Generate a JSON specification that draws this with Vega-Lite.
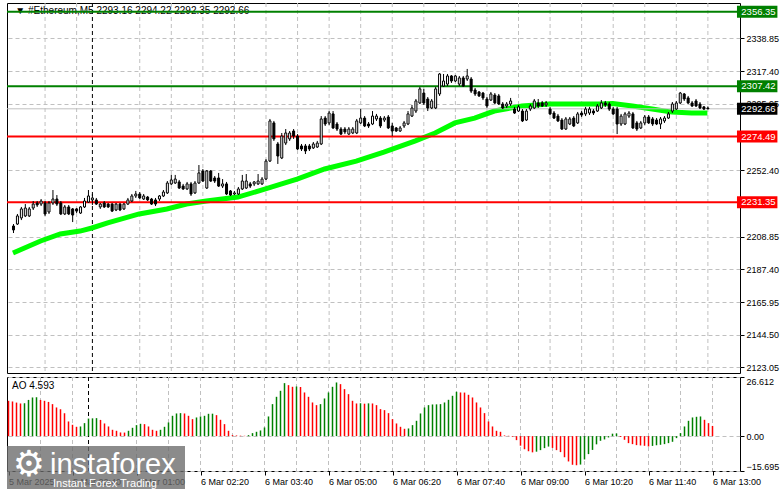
{
  "$schema": "https://vega.github.io/schema/vega-lite/v6.json",
  "padding": {"left": 2, "top": 2, "right": 0, "bottom": 0},
  "spacing": 2,
  "config": {
    "font": "Liberation Sans",
    "view": {"stroke": "#000000", "strokeWidth": 1, "fill": "#ffffff"},
    "axis": {"labelFont": "Liberation Sans", "labelFontSize": 9, "labelColor": "#000000", "tickColor": "#000000", "domain": false, "labelOverlap": false, "labelBound": false, "labelFlush": false}
  },
  "datasets": {
    "bars": [
      {"i":0,"o":2215.8,"h":2217.1,"l":2211.2,"c":2213.2,"ao":15.9},
      {"i":1,"o":2217.1,"h":2223.7,"l":2216.5,"c":2222.4,"ao":15.6},
      {"i":2,"o":2221.1,"h":2228.3,"l":2219.7,"c":2227.0,"ao":15.1},
      {"i":3,"o":2222.4,"h":2230.2,"l":2221.7,"c":2227.6,"ao":14.7},
      {"i":4,"o":2222.4,"h":2228.3,"l":2221.7,"c":2227.0,"ao":14.8},
      {"i":5,"o":2227.6,"h":2232.2,"l":2226.3,"c":2230.2,"ao":16.3},
      {"i":6,"o":2230.9,"h":2232.2,"l":2228.3,"c":2229.6,"ao":17.4},
      {"i":7,"o":2230.2,"h":2233.5,"l":2228.9,"c":2232.2,"ao":17.5},
      {"i":8,"o":2230.9,"h":2232.2,"l":2222.4,"c":2223.7,"ao":16.3},
      {"i":9,"o":2225.0,"h":2232.2,"l":2223.7,"c":2230.9,"ao":15.9},
      {"i":10,"o":2230.9,"h":2239.4,"l":2229.6,"c":2233.5,"ao":15.4},
      {"i":11,"o":2233.5,"h":2236.1,"l":2228.9,"c":2230.2,"ao":14.4},
      {"i":12,"o":2230.9,"h":2232.2,"l":2223.0,"c":2223.7,"ao":12.9},
      {"i":13,"o":2223.7,"h":2229.6,"l":2223.0,"c":2228.3,"ao":12.1},
      {"i":14,"o":2228.3,"h":2229.6,"l":2223.0,"c":2223.7,"ao":10.3},
      {"i":15,"o":2227.0,"h":2227.6,"l":2218.4,"c":2223.0,"ao":6.6},
      {"i":16,"o":2227.0,"h":2227.6,"l":2224.3,"c":2225.6,"ao":5.1},
      {"i":17,"o":2224.3,"h":2228.9,"l":2223.7,"c":2228.3,"ao":4.2},
      {"i":18,"o":2228.3,"h":2234.2,"l":2227.6,"c":2232.2,"ao":4.35},
      {"i":19,"o":2231.5,"h":2239.4,"l":2230.9,"c":2235.5,"ao":5.85},
      {"i":20,"o":2232.9,"h":2236.8,"l":2229.6,"c":2234.2,"ao":7.9},
      {"i":21,"o":2232.9,"h":2234.2,"l":2229.6,"c":2230.2,"ao":8.0},
      {"i":22,"o":2228.3,"h":2230.9,"l":2227.0,"c":2230.2,"ao":8.1},
      {"i":23,"o":2230.9,"h":2232.2,"l":2227.6,"c":2228.3,"ao":7.3},
      {"i":24,"o":2230.2,"h":2230.9,"l":2227.6,"c":2228.3,"ao":5.7},
      {"i":25,"o":2230.2,"h":2230.9,"l":2225.0,"c":2225.6,"ao":4.35},
      {"i":26,"o":2226.3,"h":2230.9,"l":2225.6,"c":2230.2,"ao":2.85},
      {"i":27,"o":2230.2,"h":2230.9,"l":2225.6,"c":2226.3,"ao":2.4},
      {"i":28,"o":2227.0,"h":2230.9,"l":2226.3,"c":2230.2,"ao":1.65},
      {"i":29,"o":2230.2,"h":2234.2,"l":2229.6,"c":2232.9,"ao":1.6},
      {"i":30,"o":2232.2,"h":2236.8,"l":2231.5,"c":2235.5,"ao":2.4},
      {"i":31,"o":2235.5,"h":2238.8,"l":2234.2,"c":2236.8,"ao":3.75},
      {"i":32,"o":2236.8,"h":2238.1,"l":2233.5,"c":2234.2,"ao":4.95},
      {"i":33,"o":2233.5,"h":2236.8,"l":2232.9,"c":2235.5,"ao":5.55},
      {"i":34,"o":2234.8,"h":2235.5,"l":2232.2,"c":2232.9,"ao":5.4},
      {"i":35,"o":2233.5,"h":2234.2,"l":2229.6,"c":2230.2,"ao":4.35},
      {"i":36,"o":2232.9,"h":2234.2,"l":2228.9,"c":2230.2,"ao":2.85},
      {"i":37,"o":2233.5,"h":2236.1,"l":2232.2,"c":2235.5,"ao":2.4},
      {"i":38,"o":2235.5,"h":2239.4,"l":2234.8,"c":2238.1,"ao":2.85},
      {"i":39,"o":2237.5,"h":2245.3,"l":2236.8,"c":2244.0,"ao":4.2},
      {"i":40,"o":2243.4,"h":2249.3,"l":2242.7,"c":2246.0,"ao":6.15},
      {"i":41,"o":2244.0,"h":2249.3,"l":2243.4,"c":2246.6,"ao":9.15},
      {"i":42,"o":2244.7,"h":2246.0,"l":2240.1,"c":2240.7,"ao":10.2},
      {"i":43,"o":2242.0,"h":2243.4,"l":2239.4,"c":2240.1,"ao":10.35},
      {"i":44,"o":2240.1,"h":2244.7,"l":2239.4,"c":2243.4,"ao":10.2},
      {"i":45,"o":2243.4,"h":2244.7,"l":2235.5,"c":2236.8,"ao":9.15},
      {"i":46,"o":2237.5,"h":2245.3,"l":2236.8,"c":2244.0,"ao":7.65},
      {"i":47,"o":2244.0,"h":2255.8,"l":2243.4,"c":2250.6,"ao":8.4},
      {"i":48,"o":2251.9,"h":2253.2,"l":2244.7,"c":2245.3,"ao":8.85},
      {"i":49,"o":2240.7,"h":2252.5,"l":2240.1,"c":2251.9,"ao":9.15},
      {"i":50,"o":2251.9,"h":2252.5,"l":2244.7,"c":2245.3,"ao":10.05},
      {"i":51,"o":2247.3,"h":2248.6,"l":2244.0,"c":2245.3,"ao":10.1},
      {"i":52,"o":2247.3,"h":2250.6,"l":2241.4,"c":2242.0,"ao":9.45},
      {"i":53,"o":2242.0,"h":2246.6,"l":2240.7,"c":2243.4,"ao":7.35},
      {"i":54,"o":2243.4,"h":2244.7,"l":2236.1,"c":2236.8,"ao":5.4},
      {"i":55,"o":2238.8,"h":2239.4,"l":2235.5,"c":2236.1,"ao":2.4},
      {"i":56,"o":2236.8,"h":2238.8,"l":2236.1,"c":2237.5,"ao":0.45},
      {"i":57,"o":2236.8,"h":2241.4,"l":2236.1,"c":2240.1,"ao":0.3},
      {"i":58,"o":2240.1,"h":2249.3,"l":2239.4,"c":2245.3,"ao":0.2},
      {"i":59,"o":2240.7,"h":2249.9,"l":2240.1,"c":2245.3,"ao":0.15},
      {"i":60,"o":2243.4,"h":2244.7,"l":2240.7,"c":2242.0,"ao":0.45},
      {"i":61,"o":2243.4,"h":2245.3,"l":2242.0,"c":2244.7,"ao":1.35},
      {"i":62,"o":2243.4,"h":2249.9,"l":2242.7,"c":2245.3,"ao":1.95},
      {"i":63,"o":2243.4,"h":2247.9,"l":2242.7,"c":2246.6,"ao":2.55},
      {"i":64,"o":2246.6,"h":2259.7,"l":2246.0,"c":2258.4,"ao":3.9},
      {"i":65,"o":2258.4,"h":2286.0,"l":2257.8,"c":2284.7,"ao":8.85},
      {"i":66,"o":2283.4,"h":2284.7,"l":2271.6,"c":2272.9,"ao":14.4},
      {"i":67,"o":2269.6,"h":2270.9,"l":2256.5,"c":2261.7,"ao":17.7},
      {"i":68,"o":2260.4,"h":2276.8,"l":2259.7,"c":2274.8,"ao":20.4},
      {"i":69,"o":2270.2,"h":2279.4,"l":2268.9,"c":2276.8,"ao":23.85},
      {"i":70,"o":2272.9,"h":2278.1,"l":2271.6,"c":2276.8,"ao":22.95},
      {"i":71,"o":2278.1,"h":2279.4,"l":2272.9,"c":2274.8,"ao":22.2},
      {"i":72,"o":2274.8,"h":2276.1,"l":2265.7,"c":2266.3,"ao":22.35},
      {"i":73,"o":2268.3,"h":2269.6,"l":2265.0,"c":2266.3,"ao":22.1},
      {"i":74,"o":2268.3,"h":2269.6,"l":2263.0,"c":2265.0,"ao":19.65},
      {"i":75,"o":2268.3,"h":2269.6,"l":2265.0,"c":2266.3,"ao":17.7},
      {"i":76,"o":2267.0,"h":2270.9,"l":2266.3,"c":2269.6,"ao":15.15},
      {"i":77,"o":2267.6,"h":2271.6,"l":2267.0,"c":2270.2,"ao":13.95},
      {"i":78,"o":2269.6,"h":2287.9,"l":2268.9,"c":2286.0,"ao":14.4},
      {"i":79,"o":2286.6,"h":2287.9,"l":2281.4,"c":2282.7,"ao":16.95},
      {"i":80,"o":2283.4,"h":2291.2,"l":2282.0,"c":2289.9,"ao":19.65},
      {"i":81,"o":2289.3,"h":2291.2,"l":2279.4,"c":2280.1,"ao":22.2},
      {"i":82,"o":2282.7,"h":2284.0,"l":2278.1,"c":2279.4,"ao":24.15},
      {"i":83,"o":2279.4,"h":2280.7,"l":2275.5,"c":2276.1,"ao":23.4},
      {"i":84,"o":2279.4,"h":2280.7,"l":2276.1,"c":2277.5,"ao":21.15},
      {"i":85,"o":2276.1,"h":2280.7,"l":2275.5,"c":2279.4,"ao":18.9},
      {"i":86,"o":2276.8,"h":2280.7,"l":2276.1,"c":2279.4,"ao":15.9},
      {"i":87,"o":2276.8,"h":2286.0,"l":2276.1,"c":2284.7,"ao":14.7},
      {"i":88,"o":2283.4,"h":2292.5,"l":2282.7,"c":2286.6,"ao":14.8},
      {"i":89,"o":2286.6,"h":2287.9,"l":2280.7,"c":2281.4,"ao":14.6},
      {"i":90,"o":2282.7,"h":2284.0,"l":2280.1,"c":2281.4,"ao":14.75},
      {"i":91,"o":2282.7,"h":2291.2,"l":2282.0,"c":2287.9,"ao":14.7},
      {"i":92,"o":2286.0,"h":2289.3,"l":2284.7,"c":2287.9,"ao":13.95},
      {"i":93,"o":2286.6,"h":2287.9,"l":2280.1,"c":2281.4,"ao":12.15},
      {"i":94,"o":2285.3,"h":2287.9,"l":2284.0,"c":2286.6,"ao":11.7},
      {"i":95,"o":2287.3,"h":2288.6,"l":2279.4,"c":2280.1,"ao":10.35},
      {"i":96,"o":2281.4,"h":2283.4,"l":2274.8,"c":2278.1,"ao":7.65},
      {"i":97,"o":2280.1,"h":2280.7,"l":2277.5,"c":2278.1,"ao":5.7},
      {"i":98,"o":2278.1,"h":2281.4,"l":2277.5,"c":2280.1,"ao":4.2},
      {"i":99,"o":2281.4,"h":2284.7,"l":2280.1,"c":2283.4,"ao":3.3},
      {"i":100,"o":2282.7,"h":2291.2,"l":2282.0,"c":2289.3,"ao":3.45},
      {"i":101,"o":2287.9,"h":2295.2,"l":2287.3,"c":2293.2,"ao":4.95},
      {"i":102,"o":2291.2,"h":2299.1,"l":2289.9,"c":2297.8,"ao":6.9},
      {"i":103,"o":2296.5,"h":2307.0,"l":2295.8,"c":2305.7,"ao":10.2},
      {"i":104,"o":2303.0,"h":2305.7,"l":2295.2,"c":2296.5,"ao":12.9},
      {"i":105,"o":2299.1,"h":2300.4,"l":2291.2,"c":2293.2,"ao":13.95},
      {"i":106,"o":2293.2,"h":2299.1,"l":2292.5,"c":2297.8,"ao":14.25},
      {"i":107,"o":2293.2,"h":2307.0,"l":2292.5,"c":2305.7,"ao":14.3},
      {"i":108,"o":2302.4,"h":2316.1,"l":2301.1,"c":2315.5,"ao":14.4},
      {"i":109,"o":2307.6,"h":2315.5,"l":2307.0,"c":2310.9,"ao":15.15},
      {"i":110,"o":2308.9,"h":2315.5,"l":2307.6,"c":2314.2,"ao":16.35},
      {"i":111,"o":2314.2,"h":2314.8,"l":2309.6,"c":2310.9,"ao":18.15},
      {"i":112,"o":2310.9,"h":2314.8,"l":2310.2,"c":2314.2,"ao":19.95},
      {"i":113,"o":2308.9,"h":2314.2,"l":2307.6,"c":2312.9,"ao":19.65},
      {"i":114,"o":2312.9,"h":2314.2,"l":2307.0,"c":2307.6,"ao":19.6},
      {"i":115,"o":2312.2,"h":2318.8,"l":2310.9,"c":2314.2,"ao":18.6},
      {"i":116,"o":2312.2,"h":2313.5,"l":2303.0,"c":2304.3,"ao":17.4},
      {"i":117,"o":2305.0,"h":2306.3,"l":2301.1,"c":2302.4,"ao":15.15},
      {"i":118,"o":2303.7,"h":2304.3,"l":2300.4,"c":2301.1,"ao":12.9},
      {"i":119,"o":2303.0,"h":2303.7,"l":2298.4,"c":2299.8,"ao":10.35},
      {"i":120,"o":2299.1,"h":2300.4,"l":2293.2,"c":2294.5,"ao":6.6},
      {"i":121,"o":2298.4,"h":2303.7,"l":2297.8,"c":2302.4,"ao":4.35},
      {"i":122,"o":2301.7,"h":2303.0,"l":2295.8,"c":2296.5,"ao":2.4},
      {"i":123,"o":2301.1,"h":2302.4,"l":2295.2,"c":2295.8,"ao":1.95},
      {"i":124,"o":2295.8,"h":2297.1,"l":2292.5,"c":2293.2,"ao":0.3},
      {"i":125,"o":2294.5,"h":2297.1,"l":2293.2,"c":2295.8,"ao":0.15},
      {"i":126,"o":2295.8,"h":2299.8,"l":2294.5,"c":2297.8,"ao":-0.3},
      {"i":127,"o":2292.5,"h":2293.9,"l":2289.3,"c":2289.9,"ao":-1.8},
      {"i":128,"o":2291.2,"h":2295.2,"l":2290.6,"c":2293.9,"ao":-4.3},
      {"i":129,"o":2291.2,"h":2292.5,"l":2284.0,"c":2284.7,"ao":-5.9},
      {"i":130,"o":2285.3,"h":2292.5,"l":2284.7,"c":2291.2,"ao":-6.8},
      {"i":131,"o":2292.5,"h":2295.8,"l":2291.2,"c":2294.5,"ao":-7.3},
      {"i":132,"o":2293.2,"h":2299.1,"l":2292.5,"c":2297.8,"ao":-7.0},
      {"i":133,"o":2296.5,"h":2299.1,"l":2293.2,"c":2294.5,"ao":-6.3},
      {"i":134,"o":2296.5,"h":2297.8,"l":2293.9,"c":2294.5,"ao":-5.4},
      {"i":135,"o":2295.2,"h":2297.8,"l":2293.9,"c":2296.5,"ao":-4.7},
      {"i":136,"o":2292.5,"h":2293.9,"l":2288.6,"c":2289.3,"ao":-5.3},
      {"i":137,"o":2289.9,"h":2291.2,"l":2286.0,"c":2286.6,"ao":-6.3},
      {"i":138,"o":2287.9,"h":2289.3,"l":2284.0,"c":2284.7,"ao":-7.2},
      {"i":139,"o":2285.3,"h":2286.6,"l":2278.8,"c":2279.4,"ao":-9.5},
      {"i":140,"o":2279.4,"h":2287.3,"l":2278.8,"c":2286.0,"ao":-11.4},
      {"i":141,"o":2282.7,"h":2287.3,"l":2282.0,"c":2286.0,"ao":-12.9},
      {"i":142,"o":2286.6,"h":2287.9,"l":2280.7,"c":2281.4,"ao":-13.1},
      {"i":143,"o":2283.4,"h":2290.6,"l":2282.7,"c":2289.3,"ao":-12.8},
      {"i":144,"o":2289.9,"h":2291.2,"l":2287.3,"c":2288.6,"ao":-10.5},
      {"i":145,"o":2289.3,"h":2293.9,"l":2287.9,"c":2292.5,"ao":-8.1},
      {"i":146,"o":2289.9,"h":2293.9,"l":2288.6,"c":2292.5,"ao":-6.2},
      {"i":147,"o":2291.2,"h":2292.5,"l":2288.6,"c":2289.9,"ao":-3.7},
      {"i":148,"o":2291.2,"h":2295.8,"l":2290.6,"c":2294.5,"ao":-2.1},
      {"i":149,"o":2293.2,"h":2298.4,"l":2292.5,"c":2296.5,"ao":-1.5},
      {"i":150,"o":2296.5,"h":2297.8,"l":2293.9,"c":2295.2,"ao":-0.6},
      {"i":151,"o":2295.8,"h":2297.1,"l":2291.2,"c":2292.5,"ao":1.1},
      {"i":152,"o":2292.5,"h":2293.9,"l":2288.6,"c":2289.3,"ao":1.2},
      {"i":153,"o":2292.5,"h":2293.9,"l":2276.1,"c":2282.7,"ao":-0.4},
      {"i":154,"o":2282.7,"h":2289.3,"l":2281.4,"c":2287.9,"ao":-1.65},
      {"i":155,"o":2282.7,"h":2290.6,"l":2282.0,"c":2289.3,"ao":-3.15},
      {"i":156,"o":2287.9,"h":2291.2,"l":2286.6,"c":2289.9,"ao":-3.6},
      {"i":157,"o":2289.3,"h":2290.6,"l":2279.4,"c":2280.1,"ao":-4.05},
      {"i":158,"o":2283.4,"h":2284.7,"l":2278.1,"c":2279.4,"ao":-4.2},
      {"i":159,"o":2280.1,"h":2284.7,"l":2279.4,"c":2283.4,"ao":-4.35},
      {"i":160,"o":2283.4,"h":2288.6,"l":2282.0,"c":2287.3,"ao":-4.65},
      {"i":161,"o":2287.3,"h":2288.6,"l":2282.7,"c":2283.4,"ao":-4.4},
      {"i":162,"o":2286.0,"h":2287.3,"l":2281.4,"c":2282.7,"ao":-4.1},
      {"i":163,"o":2285.3,"h":2286.6,"l":2282.0,"c":2282.7,"ao":-3.9},
      {"i":164,"o":2282.7,"h":2287.3,"l":2279.4,"c":2286.0,"ao":-3.6},
      {"i":165,"o":2284.7,"h":2287.9,"l":2283.4,"c":2286.6,"ao":-3.15},
      {"i":166,"o":2286.6,"h":2290.6,"l":2286.0,"c":2289.3,"ao":-2.55},
      {"i":167,"o":2291.2,"h":2297.1,"l":2289.9,"c":2295.8,"ao":-0.9},
      {"i":168,"o":2292.5,"h":2297.8,"l":2291.9,"c":2296.5,"ao":1.35},
      {"i":169,"o":2296.5,"h":2303.7,"l":2295.8,"c":2303.0,"ao":4.35},
      {"i":170,"o":2302.4,"h":2303.0,"l":2297.8,"c":2299.1,"ao":6.9},
      {"i":171,"o":2299.8,"h":2301.1,"l":2295.8,"c":2296.5,"ao":8.4},
      {"i":172,"o":2296.5,"h":2297.8,"l":2293.9,"c":2294.5,"ao":8.7},
      {"i":173,"o":2297.8,"h":2299.1,"l":2293.9,"c":2294.5,"ao":8.85},
      {"i":174,"o":2295.8,"h":2297.1,"l":2292.5,"c":2293.2,"ao":7.35},
      {"i":175,"o":2293.9,"h":2294.5,"l":2291.9,"c":2292.5,"ao":5.85},
      {"i":176,"o":2293.16,"h":2294.22,"l":2292.35,"c":2292.66,"ao":4.593}
    ],
    "ma": [
      {"i":0,"ma":2198.1},{"i":7,"ma":2206.0},{"i":12,"ma":2210.6},{"i":17,"ma":2212.5},
      {"i":20,"ma":2214.5},{"i":24,"ma":2217.8},{"i":32,"ma":2223.7},{"i":39,"ma":2227.0},
      {"i":44,"ma":2230.2},{"i":49,"ma":2232.2},{"i":57,"ma":2234.8},{"i":64,"ma":2240.1},
      {"i":72,"ma":2246.6},{"i":79,"ma":2253.2},{"i":87,"ma":2258.4},{"i":94,"ma":2264.3},
      {"i":102,"ma":2271.6},{"i":107,"ma":2276.8},{"i":112,"ma":2283.4},{"i":117,"ma":2286.6},
      {"i":122,"ma":2291.2},{"i":129,"ma":2294.5},{"i":136,"ma":2295.8},{"i":142,"ma":2295.8},
      {"i":149,"ma":2295.8},{"i":152,"ma":2296.1},{"i":157,"ma":2294.5},{"i":162,"ma":2292.5},
      {"i":167,"ma":2290.5},{"i":172,"ma":2289.9},{"i":176,"ma":2289.9}
    ],
    "levels": [
      {"p":2356.35,"k":"g"},{"p":2307.42,"k":"g"},{"p":2292.66,"k":"b"},{"p":2274.49,"k":"r"},{"p":2231.35,"k":"r"}
    ],
    "vgrid": [
      {"i":8},{"i":16},{"i":32},{"i":40},{"i":48},{"i":56},{"i":64},{"i":72},{"i":80},{"i":88},{"i":96},
      {"i":104},{"i":112},{"i":120},{"i":128},{"i":136},{"i":144},{"i":152},{"i":160},{"i":168},{"i":176}
    ]
  },
  "vconcat": [
    {
      "width": 733,
      "height": 370,
      "layer": [
        {
          "data": {"name": "vgrid"},
          "mark": {"type": "rule", "stroke": "#c0c0c0", "strokeDash": [4, 3], "strokeWidth": 1, "xOffset": 0.5},
          "encoding": {
            "x": {"field": "i", "type": "quantitative", "scale": {"domain": [-0.25, 183], "nice": false, "zero": false}, "axis": null}
          }
        },
        {
          "data": {"values": [{}]},
          "mark": {"type": "rule", "stroke": "#000000", "strokeDash": [4, 3], "strokeWidth": 1, "xOffset": 0.5},
          "encoding": {
            "x": {"datum": 20, "type": "quantitative", "scale": {"domain": [-0.25, 183], "nice": false, "zero": false}, "axis": null}
          }
        },
        {
          "data": {"name": "ma"},
          "mark": {"type": "line", "stroke": "#00ff00", "strokeWidth": 5, "strokeCap": "butt"},
          "encoding": {
            "x": {"field": "i", "type": "quantitative", "scale": {"domain": [-0.25, 183], "nice": false, "zero": false}, "axis": null},
            "y": {"field": "ma", "type": "quantitative", "title": null, "scale": {"domain": [2119.41, 2362.05], "nice": false, "zero": false},
              "axis": {"orient": "right", "title": null, "values": [2338.85, 2317.40, 2295.95, 2252.40, 2208.85, 2187.40, 2165.95, 2144.50, 2123.05],
                "tickCount": 30, "format": ".2f", "grid": true, "gridColor": "#c0c0c0", "gridDash": [4, 3], "tickSize": 4, "labelPadding": 2, "labelFlush": false, "labelOverlap": false, "labelBound": false}}
          }
        },
        {
          "data": {"values": [{"t": "▼ #Ethereum,M5  2293.16 2294.22 2292.35 2292.66"}]},
          "mark": {"type": "text", "align": "left", "baseline": "middle", "fontSize": 10, "color": "#000000"},
          "encoding": {
            "x": {"datum": 0.6, "type": "quantitative", "scale": {"domain": [-0.25, 183], "nice": false, "zero": false}, "axis": null},
            "y": {"datum": 2356.9, "type": "quantitative", "title": null, "scale": {"domain": [2119.41, 2362.05], "nice": false, "zero": false}},
            "text": {"field": "t"}
          }
        },
        {
          "data": {"name": "levels"},
          "mark": {"type": "rule"},
          "encoding": {
            "y": {"field": "p", "type": "quantitative", "title": null, "scale": {"domain": [2119.41, 2362.05], "nice": false, "zero": false}},
            "stroke": {"field": "k", "type": "nominal", "scale": {"domain": ["b", "g", "r"], "range": ["#c0c0c0", "#008000", "#ff0000"]}, "legend": null},
            "strokeWidth": {"condition": {"test": "datum.k == 'b'", "value": 1}, "value": 2}
          }
        },
        {
          "data": {"name": "bars"},
          "mark": {"type": "rule", "stroke": "#000000", "strokeWidth": 1, "xOffset": 0.5},
          "encoding": {
            "x": {"field": "i", "type": "quantitative", "scale": {"domain": [-0.25, 183], "nice": false, "zero": false}, "axis": null},
            "y": {"field": "l", "type": "quantitative", "title": null, "scale": {"domain": [2119.41, 2362.05], "nice": false, "zero": false}},
            "y2": {"field": "h"}
          }
        },
        {
          "data": {"name": "bars"},
          "mark": {"type": "bar", "size": 2, "stroke": "#000000", "strokeWidth": 1, "xOffset": 0.5},
          "encoding": {
            "x": {"field": "i", "type": "quantitative", "scale": {"domain": [-0.25, 183], "nice": false, "zero": false}, "axis": null},
            "y": {"field": "o", "type": "quantitative", "title": null, "scale": {"domain": [2119.41, 2362.05], "nice": false, "zero": false}},
            "y2": {"field": "c"},
            "fill": {"condition": {"test": "datum.c >= datum.o", "value": "#ffffff"}, "value": "#000000"}
          }
        },
        {
          "data": {"name": "levels"},
          "mark": {"type": "rect", "yOffset": -6, "y2Offset": 6},
          "encoding": {
            "x": {"datum": 183.5, "type": "quantitative", "scale": {"domain": [-0.25, 183], "nice": false, "zero": false}, "axis": null},
            "x2": {"datum": 193.75},
            "y": {"field": "p", "type": "quantitative", "title": null, "scale": {"domain": [2119.41, 2362.05], "nice": false, "zero": false}},
            "y2": {"field": "p"},
            "fill": {"field": "k", "type": "nominal", "scale": {"domain": ["b", "g", "r"], "range": ["#000000", "#008000", "#ff0000"]}, "legend": null}
          }
        },
        {
          "data": {"name": "levels"},
          "mark": {"type": "text", "align": "left", "baseline": "middle", "fontSize": 9.5, "color": "#ffffff"},
          "encoding": {
            "x": {"datum": 184.6, "type": "quantitative", "scale": {"domain": [-0.25, 183], "nice": false, "zero": false}, "axis": null},
            "y": {"field": "p", "type": "quantitative", "title": null, "scale": {"domain": [2119.41, 2362.05], "nice": false, "zero": false}},
            "text": {"field": "p", "type": "quantitative", "format": ".2f"}
          }
        }
      ]
    },
    {
      "width": 733,
      "height": 94,
      "layer": [
        {
          "data": {"name": "vgrid"},
          "mark": {"type": "rule", "stroke": "#c0c0c0", "strokeDash": [4, 3], "strokeWidth": 1, "xOffset": 0.5},
          "encoding": {
            "x": {"field": "i", "type": "quantitative", "title": null, "scale": {"domain": [-0.25, 183], "nice": false, "zero": false}}
          }
        },
        {
          "data": {"values": [{}]},
          "mark": {"type": "rule", "stroke": "#000000", "strokeDash": [4, 3], "strokeWidth": 1, "xOffset": 0.5},
          "encoding": {
            "x": {"datum": 20, "type": "quantitative", "title": null, "scale": {"domain": [-0.25, 183], "nice": false, "zero": false}}
          }
        },
        {
          "data": {"name": "bars"},
          "transform": [{"window": [{"op": "lag", "field": "ao", "as": "prev"}], "sort": [{"field": "i", "order": "ascending"}]}],
          "mark": {"type": "rule", "strokeWidth": 1.5, "xOffset": 0.5},
          "encoding": {
            "x": {"field": "i", "type": "quantitative", "title": null, "scale": {"domain": [-0.25, 183], "nice": false, "zero": false},
              "axis": {"orient": "bottom", "title": null, "values": [0, 16, 32, 48, 64, 80, 96, 112, 128, 144, 160, 176], "tickCount": 30,
                "labelExpr": "['5 Mar 2025','5 Mar 22:40','6 Mar 01:00','6 Mar 02:20','6 Mar 03:40','6 Mar 05:00','6 Mar 06:20','6 Mar 07:40','6 Mar 09:00','6 Mar 10:20','6 Mar 11:40','6 Mar 13:00'][round(datum.value / 16)]",
                "labelAlign": "left", "labelFlush": false, "labelOverlap": false, "labelBound": false, "grid": false, "tickSize": 4, "labelPadding": 2, "tickOffset": 0.5}},
            "y": {"field": "ao", "type": "quantitative", "title": null, "scale": {"domain": [-15.695, 26.612], "nice": false, "zero": false},
              "axis": {"orient": "right", "title": null, "values": [26.612, 0, -15.695], "tickCount": 10,
                "labelExpr": "datum.value == 0 ? '0.00' : format(datum.value, '.3f')",
                "labelFlush": true, "grid": true, "gridColor": "#c0c0c0", "gridDash": [4, 3], "tickSize": 4, "labelPadding": 2}},
            "y2": {"datum": 0},
            "stroke": {"condition": {"test": "datum.prev != null && datum.ao > datum.prev", "value": "#008000"}, "value": "#ff0000"}
          }
        },
        {
          "data": {"values": [{"t": "AO 4.593"}]},
          "mark": {"type": "text", "align": "left", "baseline": "middle", "fontSize": 10, "color": "#000000"},
          "encoding": {
            "x": {"datum": 1.0, "type": "quantitative", "title": null, "scale": {"domain": [-0.25, 183], "nice": false, "zero": false}},
            "y": {"datum": 22.5, "type": "quantitative", "title": null, "scale": {"domain": [-15.695, 26.612], "nice": false, "zero": false}},
            "text": {"field": "t"}
          }
        },
        {
          "data": {"values": [{}]},
          "mark": {"type": "rect", "fill": "#6a6a6a", "opacity": 0.78},
          "encoding": {
            "x": {"datum": -0.25, "type": "quantitative", "title": null, "scale": {"domain": [-0.25, 183], "nice": false, "zero": false}},
            "x2": {"datum": 44.25},
            "y": {"datum": -4.44, "type": "quantitative", "title": null, "scale": {"domain": [-15.695, 26.612], "nice": false, "zero": false}},
            "y2": {"datum": -25.14}
          }
        },
        {
          "data": {"values": [{"t": "⚙"}]},
          "mark": {"type": "text", "align": "center", "baseline": "middle", "fontSize": 36, "color": "#ffffff", "font": "DejaVu Sans"},
          "encoding": {
            "x": {"datum": 5.25, "type": "quantitative", "title": null, "scale": {"domain": [-0.25, 183], "nice": false, "zero": false}},
            "y": {"datum": -13.0, "type": "quantitative", "title": null, "scale": {"domain": [-15.695, 26.612], "nice": false, "zero": false}},
            "text": {"field": "t"}
          }
        },
        {
          "data": {"values": [{"t": "instaforex"}]},
          "mark": {"type": "text", "align": "left", "baseline": "alphabetic", "fontSize": 29, "color": "#ffffff"},
          "encoding": {
            "x": {"datum": 10.5, "type": "quantitative", "title": null, "scale": {"domain": [-0.25, 183], "nice": false, "zero": false}},
            "y": {"datum": -17.0, "type": "quantitative", "title": null, "scale": {"domain": [-15.695, 26.612], "nice": false, "zero": false}},
            "text": {"field": "t"}
          }
        },
        {
          "data": {"values": [{"t": "Instant Forex Trading"}]},
          "mark": {"type": "text", "align": "left", "baseline": "alphabetic", "fontSize": 11, "color": "#ffffff"},
          "encoding": {
            "x": {"datum": 11.25, "type": "quantitative", "title": null, "scale": {"domain": [-0.25, 183], "nice": false, "zero": false}},
            "y": {"datum": -22.9, "type": "quantitative", "title": null, "scale": {"domain": [-15.695, 26.612], "nice": false, "zero": false}},
            "text": {"field": "t"}
          }
        }
      ]
    }
  ]
}
